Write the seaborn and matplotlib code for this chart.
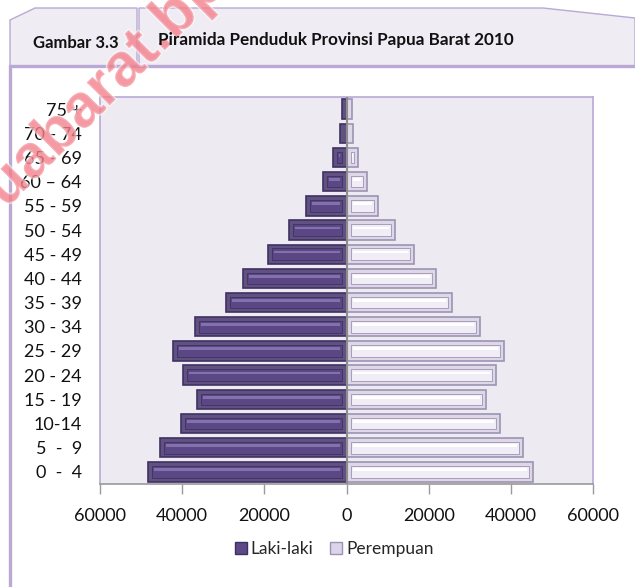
import matplotlib
matplotlib.use("Agg")
import matplotlib.pyplot as plt
import matplotlib.patheffects as pe
import seaborn as sns
import pandas as pd
from matplotlib.patches import Polygon, Rectangle, Patch
from matplotlib.lines import Line2D

age_groups = ["75 +", "70 - 74", "65 - 69", "60 \u2013 64", "55 - 59", "50 - 54",
              "45 - 49", "40 - 44", "35 - 39", "30 - 34", "25 - 29", "20 - 24",
              "15 - 19", "10-14", "5  -  9", "0  -  4"]
male = [1200, 1600, 3300, 5800, 9900, 14100, 19000, 25200, 29400, 36800,
        42300, 39900, 36300, 40400, 45500, 48400]
female = [1400, 1600, 2800, 4900, 7700, 11900, 16400, 21700, 25700, 32400,
          38300, 36300, 33900, 37300, 42900, 45500]
series = ["Laki-laki", "Perempuan"]
xticks = [-60000, -40000, -20000, 0, 20000, 40000, 60000]
xtick_labels = ["60000", "40000", "20000", "0", "20000", "40000", "60000"]
title_left = "Gambar 3.3"
title_right = "Piramida Penduduk Provinsi Papua Barat 2010"
watermark = "papuabarat.bps.go.id"

df = pd.DataFrame({
    "age": age_groups * 2,
    "value": [-v for v in male] + female,
    "sex": [series[0]] * len(male) + [series[1]] * len(female),
})

sns.set_theme(style="white")
plt.rcParams["font.family"] = ["Lato", "DejaVu Sans"]

W, H = 635, 587
fig = plt.figure(figsize=(W / 100, H / 100), dpi=100)
fig.patch.set_facecolor("white")

def fx(x):
    return x / W

def fy(y):
    return 1 - y / H

frame_col = "#b9a9d4"
tab_fill = "#efecf4"

# header tabs
left_tab = [(10, 20), (35, 8), (137, 8), (137, 66), (10, 66)]
right_tab = [(139, 8), (543, 8), (635, 18), (635, 66), (139, 66)]
for poly in (left_tab, right_tab):
    fig.patches.append(Polygon([(fx(a), fy(b)) for a, b in poly], closed=True,
                               transform=fig.transFigure, facecolor=tab_fill,
                               edgecolor=frame_col, lw=1.0, zorder=0))
fig.add_artist(Line2D([fx(10), fx(635)], [fy(66), fy(66)], transform=fig.transFigure,
                      color=frame_col, lw=2.4))
fig.add_artist(Line2D([fx(10), fx(10)], [fy(66), fy(587)], transform=fig.transFigure,
                      color=frame_col, lw=2.4))
fig.text(fx(76), fy(43), title_left, ha="center", va="center", fontsize=12,
         fontweight="bold", color="#111111", zorder=4)
fig.text(fx(158), fy(40), title_right, ha="left", va="center", fontsize=12.3,
         fontweight="bold", color="#111111", zorder=4)

ax = fig.add_axes([fx(100), fy(484), fx(593) - fx(100), fy(97) - fy(484)])
ax.set_facecolor("#edeaf2")

male_col = "#5d4988"
female_col = "#dcd4ea"
sns.barplot(data=df, y="age", x="value", hue="sex", order=age_groups,
            hue_order=series, palette=[male_col, female_col], dodge=False,
            orient="h", width=0.8, legend=False, ax=ax,
            edgecolor="#3e3060", linewidth=0.0, zorder=2)

ax.set_xlim(-60000, 60000)
ax.set_xticks(xticks)
ax.set_xticklabels(xtick_labels)
ax.set_xlabel("")
ax.set_ylabel("")

# bevel decoration derived from each bar
fig.canvas.draw()
px_per_unit = ax.transData.transform((1, 0))[0] - ax.transData.transform((0, 0))[0]
for p in list(ax.patches):
    x0, y0, w, h = p.get_x(), p.get_y(), p.get_width(), p.get_height()
    if w == 0:
        continue
    is_male = p.get_facecolor()[0] < 0.5
    if is_male:
        outer_e, inner_f, hl = "#3f3163", "#5b4784", "#8371ad"
    else:
        outer_e, inner_f, hl = "#9d93b3", "#f1edf7", "#ffffff"
    p.set_edgecolor(outer_e)
    p.set_linewidth(1.2)
    inset_x = 4 / px_per_unit
    left = min(x0, x0 + w)
    width = abs(w)
    if width > 2.2 * inset_x:
        ax.add_patch(Rectangle((left + inset_x, y0 + h * 0.2), width - 2 * inset_x,
                               h * 0.6, facecolor=inner_f, edgecolor=outer_e,
                               lw=0.6, zorder=3))
        ax.add_patch(Rectangle((left + inset_x * 1.5, y0 + h * 0.32),
                               width - 3 * inset_x, h * 0.14, facecolor=hl,
                               edgecolor="none", zorder=4))

ax.axvline(0, color="#8c8c8c", lw=1.5, zorder=5)

for s in ("left", "top", "right"):
    ax.spines[s].set_color(frame_col)
    ax.spines[s].set_linewidth(1.2)
ax.spines["bottom"].set_color("#9a9a9a")
ax.spines["bottom"].set_linewidth(1.2)
ax.tick_params(axis="x", direction="out", length=7, width=1, color="#9a9a9a",
               labelsize=13, pad=10, labelcolor="#111111", bottom=True)
ax.tick_params(axis="y", length=0, labelsize=13, pad=13, labelcolor="#111111")

handles = [Patch(facecolor=male_col, edgecolor="#3e3060", label=series[0]),
           Patch(facecolor=female_col, edgecolor="#9d93b3", label=series[1])]
fig.legend(handles=handles, loc="center", bbox_to_anchor=(fx(334), fy(549)),
           ncol=2, frameon=False, fontsize=12.5, handlelength=0.7, handleheight=0.7,
           handletextpad=0.2, columnspacing=1.0)

# watermark (above the chart, below the header texts)
fig.text(fx(-71), fy(286), watermark, rotation=45,
         rotation_mode="anchor", ha="left", va="baseline", fontsize=44,
         fontweight="bold", color="#f3808c", alpha=0.55, zorder=3,
         family="Liberation Sans",
         path_effects=[pe.withStroke(linewidth=2, foreground="white")])

fig.savefig("out.png", dpi=100)
